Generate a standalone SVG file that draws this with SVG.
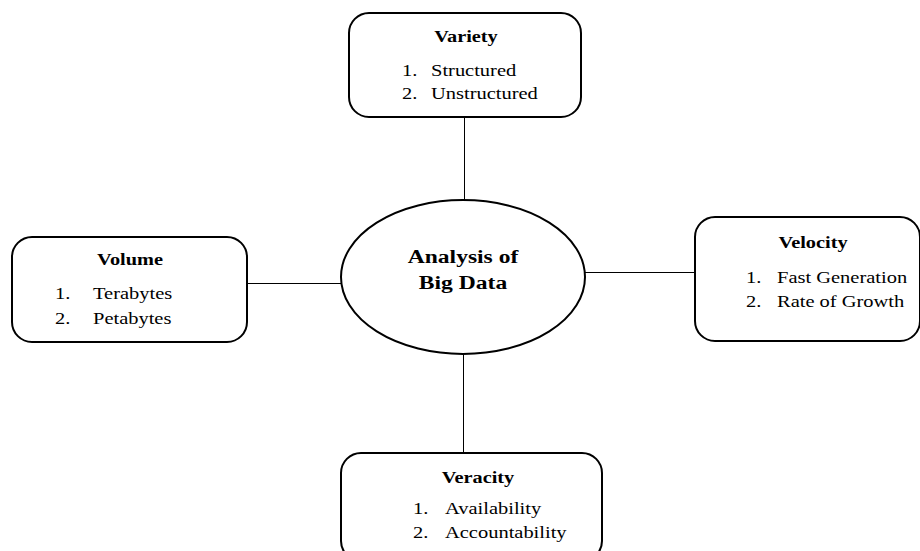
<svg xmlns="http://www.w3.org/2000/svg" width="920" height="551" viewBox="0 0 920 551">
<style>
.box{fill:#fff;stroke:#000;stroke-width:2}
.con line{stroke:#000;stroke-width:1}
text{font-family:"Liberation Serif","Times New Roman",serif;fill:#000;font-size:16px}
.t{font-weight:bold;text-anchor:middle}
.c{font-weight:bold;text-anchor:middle;font-size:19px}
</style>
<rect width="920" height="551" fill="#fff"/>
<g id="connectors" class="con">
<line x1="464.5" y1="117" x2="464.5" y2="200"/>
<line x1="247" y1="283.5" x2="342" y2="283.5"/>
<line x1="584" y1="272.5" x2="695" y2="272.5"/>
<line x1="463.5" y1="354" x2="463.5" y2="453"/>
</g>
<g id="center">
<ellipse cx="463" cy="277" rx="122" ry="77" fill="#fff" stroke="#000" stroke-width="2"/>
<text class="c" transform="translate(463,263) scale(1.24,1)">Analysis of</text>
<text class="c" transform="translate(463,289) scale(1.24,1)">Big Data</text>
</g>
<g id="variety">
<rect class="box" x="349" y="13" width="232" height="104" rx="20"/>
<text class="t" transform="translate(466,42) scale(1.27,1)">Variety</text>
<text transform="translate(402,76) scale(1.28,1)">1.</text>
<text transform="translate(431,76) scale(1.28,1)">Structured</text>
<text transform="translate(402,99) scale(1.28,1)">2.</text>
<text transform="translate(431,99) scale(1.28,1)">Unstructured</text>
</g>
<g id="volume">
<rect class="box" x="12" y="237" width="235" height="105" rx="20"/>
<text class="t" transform="translate(130,265) scale(1.27,1)">Volume</text>
<text transform="translate(55,299) scale(1.28,1)">1.</text>
<text transform="translate(93,299) scale(1.28,1)">Terabytes</text>
<text transform="translate(55,324) scale(1.28,1)">2.</text>
<text transform="translate(93,324) scale(1.28,1)">Petabytes</text>
</g>
<g id="velocity">
<rect class="box" x="695" y="217" width="225" height="124" rx="20"/>
<text class="t" transform="translate(813,248) scale(1.27,1)">Velocity</text>
<text transform="translate(746,283) scale(1.28,1)">1.</text>
<text transform="translate(777,283) scale(1.28,1)">Fast Generation</text>
<text transform="translate(746,307) scale(1.28,1)">2.</text>
<text transform="translate(777,307) scale(1.28,1)">Rate of Growth</text>
</g>
<g id="veracity">
<rect class="box" x="341" y="453" width="261" height="108" rx="20"/>
<text class="t" transform="translate(478,483) scale(1.27,1)">Veracity</text>
<text transform="translate(413,514) scale(1.28,1)">1.</text>
<text transform="translate(445,514) scale(1.28,1)">Availability</text>
<text transform="translate(413,538) scale(1.28,1)">2.</text>
<text transform="translate(445,538) scale(1.28,1)">Accountability</text>
</g>
</svg>
